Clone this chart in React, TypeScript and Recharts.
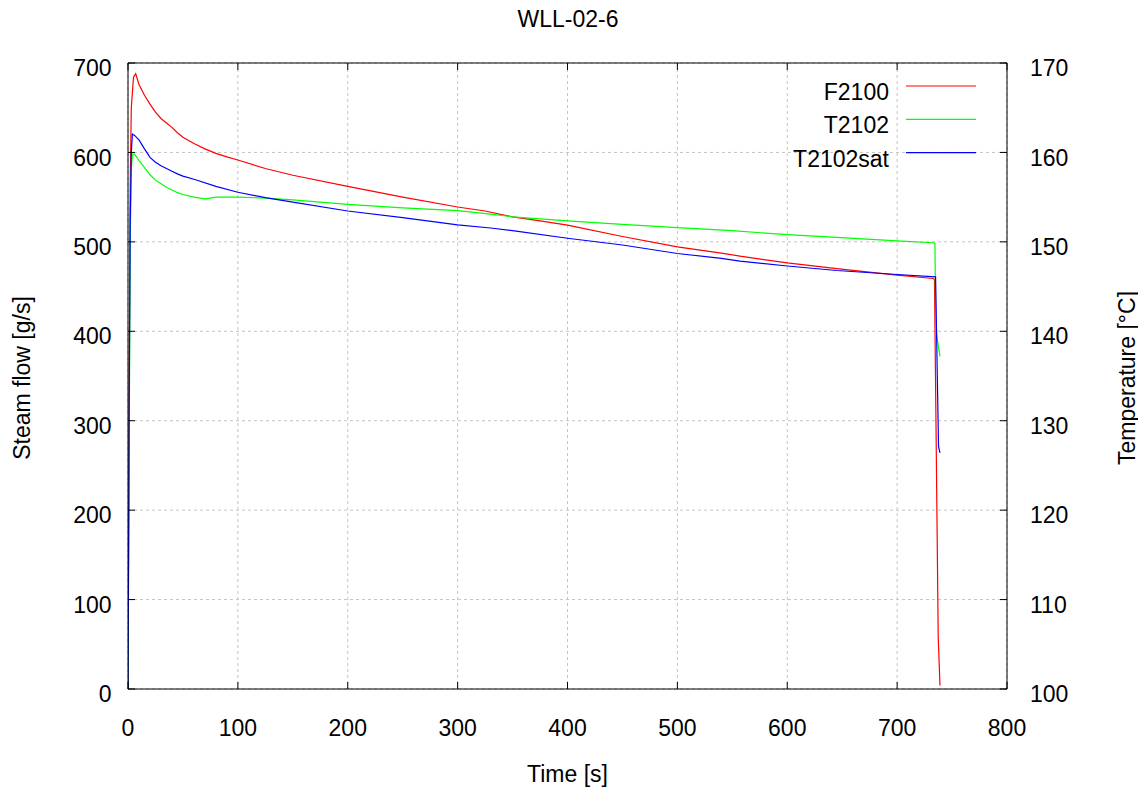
import React from 'react';
import { LineChart, Line, XAxis, YAxis, CartesianGrid } from 'recharts';

const FONT = '"Liberation Sans", Arial, Helvetica, sans-serif';
const FS = 23;
const TICK_LEN = 7;

const chartTitle = 'WLL-02-6';
const xTitle = 'Time [s]';
const leftTitle = 'Steam flow [g/s]';
const rightTitle = 'Temperature [°C]';

const xTicks = [0, 100, 200, 300, 400, 500, 600, 700, 800];
const flowTicks = [0, 100, 200, 300, 400, 500, 600, 700];
const tempTicks = [100, 110, 120, 130, 140, 150, 160, 170];

// F2100 steam flow [g/s]
const f2100Time = [0, 1, 2, 3, 5, 7, 10, 15, 20, 25, 30, 35, 40, 45, 50, 60, 70, 80, 90, 100, 125, 150, 200, 250, 300, 325, 350, 375, 400, 450, 500, 540, 557, 600, 645, 700, 733, 734, 737.4, 739];
const f2100Flow = [0, 330, 560, 650, 684, 688, 676, 664, 654, 645, 638, 633, 628, 622, 617, 610, 604, 599, 595, 591.5, 582, 574.5, 562, 550, 539, 534.5, 528, 523.5, 518.7, 506, 494.4, 487.5, 484, 476.5, 470, 462.7, 459, 458, 58, 4];

// T2102 temperature [°C]
const t2102Time = [0, 1, 2, 3, 4, 6, 10, 15, 20, 25, 30, 35, 40, 45, 50, 60, 70, 80, 100, 125, 150, 200, 250, 300, 330, 350, 400, 450, 500, 550, 600, 645, 700, 733, 734.4, 735.3, 739];
const t2102Temp = [100, 125, 150, 158, 159.8, 159.8, 159.1, 158.3, 157.5, 156.9, 156.5, 156.1, 155.8, 155.5, 155.3, 155.0, 154.8, 155.0, 155.0, 154.9, 154.7, 154.2, 153.8, 153.5, 153.1, 152.8, 152.35, 151.95, 151.6, 151.25, 150.8, 150.5, 150.1, 149.9, 149.8, 140.1, 137.2];

// T2102sat temperature [°C]
const t2102satTime = [0, 1, 2, 3, 4, 6, 10, 15, 20, 25, 30, 35, 40, 45, 50, 60, 80, 100, 125, 150, 200, 250, 300, 330, 350, 400, 450, 500, 540, 557, 600, 645, 700, 735, 737.7, 739];
const t2102satTemp = [100, 130, 152, 160, 162.05, 161.9, 161.4, 160.4, 159.45, 158.9, 158.5, 158.2, 157.9, 157.6, 157.35, 157.0, 156.2, 155.55, 154.95, 154.45, 153.45, 152.7, 151.9, 151.55, 151.25, 150.4, 149.65, 148.7, 148.15, 147.85, 147.3, 146.8, 146.35, 146.08, 127.1, 126.4];

const toPoints = (ts: number[], vs: number[]) => ts.map((t, i) => ({ t, v: vs[i] }));

const series = [
  { name: 'F2100', color: '#ff0000', axis: 'left', data: toPoints(f2100Time, f2100Flow) },
  { name: 'T2102', color: '#00ff00', axis: 'right', data: toPoints(t2102Time, t2102Temp) },
  { name: 'T2102sat', color: '#0000ff', axis: 'right', data: toPoints(t2102satTime, t2102satTemp) },
];

const W = 1130;
const H = 781;

function LeftTick(props: any) {
  const { x, y, payload } = props;
  return (
    <g>
      <line x1={x} x2={x + TICK_LEN} y1={y} y2={y} stroke="#000" strokeWidth={1} />
      <text x={x - 16.5} y={y + 13.2} textAnchor="end" fontSize={FS} fontFamily={FONT} fill="#000">
        {payload.value}
      </text>
    </g>
  );
}

function RightTick(props: any) {
  const { x, y, payload } = props;
  return (
    <g>
      <line x1={x} x2={x - TICK_LEN} y1={y} y2={y} stroke="#000" strokeWidth={1} />
      <text x={x + 23} y={y + 13.2} textAnchor="start" fontSize={FS} fontFamily={FONT} fill="#000">
        {payload.value}
      </text>
    </g>
  );
}

function BottomTick(props: any) {
  const { x, y, payload } = props;
  return (
    <g>
      <line x1={x} x2={x} y1={y} y2={y - TICK_LEN} stroke="#000" strokeWidth={1} />
      <text x={x} y={y + 46.5} textAnchor="middle" fontSize={FS} fontFamily={FONT} fill="#000">
        {payload.value}
      </text>
    </g>
  );
}

function TopTick(props: any) {
  const { x, y } = props;
  return (
    <g>
      <line x1={x} x2={x} y1={y} y2={y + TICK_LEN} stroke="#000" strokeWidth={1} />
    </g>
  );
}

export default function App() {
  return (
    <div style={{ position: 'relative', width: W, height: H }}>
      <LineChart width={W} height={H} margin={{ top: 54, right: 71, bottom: 40, left: 60 }}>
        <CartesianGrid stroke="#c4c4c4" strokeDasharray="3 3" />
        <XAxis
          dataKey="t"
          type="number"
          domain={[0, 800]}
          ticks={xTicks}
          interval={0}
          allowDataOverflow
          height={60}
          tickSize={0}
          tickMargin={0}
          tickLine={false}
          axisLine={{ stroke: '#000', strokeWidth: 1 }}
          tick={<BottomTick />}
        />
        <XAxis
          xAxisId="top"
          orientation="top"
          dataKey="t"
          type="number"
          domain={[0, 800]}
          ticks={xTicks}
          interval={0}
          allowDataOverflow
          height={1}
          tickSize={0}
          tickMargin={0}
          tickLine={false}
          axisLine={{ stroke: '#000', strokeWidth: 1 }}
          tick={<TopTick />}
        />
        <YAxis
          type="number"
          domain={[0, 700]}
          ticks={flowTicks}
          interval={0}
          allowDataOverflow
          width={60}
          tickSize={0}
          tickMargin={0}
          tickLine={false}
          axisLine={{ stroke: '#000', strokeWidth: 1 }}
          tick={<LeftTick />}
        />
        <YAxis
          yAxisId="right"
          orientation="right"
          type="number"
          domain={[100, 170]}
          ticks={tempTicks}
          interval={0}
          allowDataOverflow
          width={60}
          tickSize={0}
          tickMargin={0}
          tickLine={false}
          axisLine={{ stroke: '#000', strokeWidth: 1 }}
          tick={<RightTick />}
        />
        {series.map((s) => (
          <Line
            key={s.name}
            data={s.data}
            dataKey="v"
            name={s.name}
            yAxisId={s.axis === 'right' ? 'right' : 0}
            type="linear"
            stroke={s.color}
            strokeWidth={1.2}
            dot={false}
            activeDot={false}
            isAnimationActive={false}
          />
        ))}
      </LineChart>
      <svg
        width={W}
        height={H}
        style={{ position: 'absolute', left: 0, top: 0, overflow: 'visible', pointerEvents: 'none' }}
      >
        <text x={560} y={18.5} textAnchor="middle" fontSize={FS} fontFamily={FONT} fill="#000">
          {chartTitle}
        </text>
        <text x={559.5} y={774} textAnchor="middle" fontSize={FS} fontFamily={FONT} fill="#000">
          {xTitle}
        </text>
        <text
          transform="translate(22,370) rotate(-90)"
          textAnchor="middle"
          fontSize={FS}
          fontFamily={FONT}
          fill="#000"
        >
          {leftTitle}
        </text>
        <text
          transform="translate(1127,370) rotate(-90)"
          textAnchor="middle"
          fontSize={FS}
          fontFamily={FONT}
          fill="#000"
        >
          {rightTitle}
        </text>
        {series.map((s, i) => {
          const ly = 78 + i * 33.3;
          return (
            <g key={s.name}>
              <text x={881} y={ly + 14} textAnchor="end" fontSize={FS} fontFamily={FONT} fill="#000">
                {s.name}
              </text>
              <line x1={898} x2={968} y1={ly} y2={ly} stroke={s.color} strokeWidth={1.2} />
            </g>
          );
        })}
      </svg>
    </div>
  );
}
